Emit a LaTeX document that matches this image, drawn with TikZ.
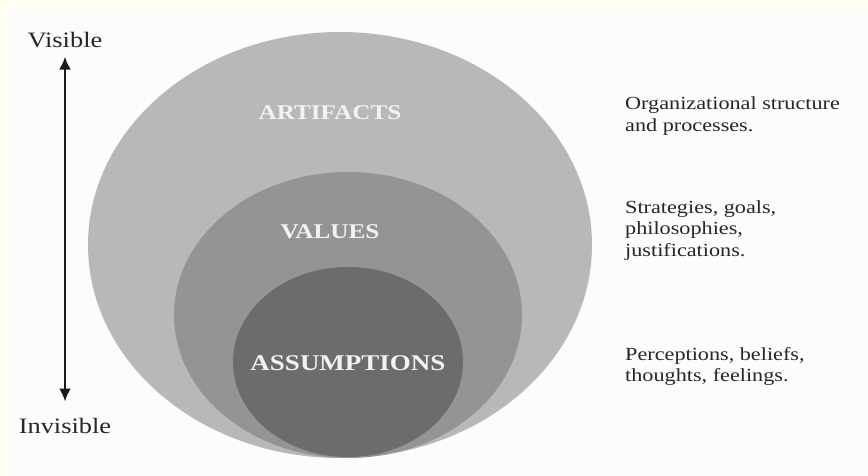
\documentclass[tikz,border=0pt]{standalone}
\usepackage{fontspec}
\setmainfont{Liberation Serif}[FakeStretch=1.2]
\usetikzlibrary{shapes.geometric,arrows.meta}
\definecolor{paper}{HTML}{FCFCFD}
\definecolor{cream}{HTML}{FFFEF0}
\definecolor{ringA}{HTML}{B8B8BB}
\definecolor{ringB}{HTML}{949497}
\definecolor{ringC}{HTML}{6C6C6F}
\definecolor{ink}{HTML}{262626}
\definecolor{lab}{HTML}{F2F2F2}
\begin{document}
\begin{tikzpicture}[x=1pt,y=-1pt,
  layer/.style={ellipse,draw=none,inner sep=0pt},
  ringlabel/.style={text=lab,inner sep=0pt,font=\bfseries\fontsize{21}{24}\selectfont},
  note/.style={text=ink,inner sep=0pt,anchor=north west,align=left,
    font=\fontsize{18.5}{21.5}\selectfont},
  axislabel/.style={text=ink,inner sep=0pt,anchor=base,font=\fontsize{22}{24}\selectfont},
  axis/.style={draw=black!90,line width=2.6pt,
    {Latex[length=13pt,width=12pt]}-{Latex[length=13pt,width=12pt]}}]
  % page: cream strip along top and left, white sheet
  \fill[cream] (0,0) rectangle (868,476);
  \fill[paper] (9,9) rectangle (868,476);
  \useasboundingbox (0,0) rectangle (868,476);

  % nested layers
  \node[layer,fill=ringA,minimum width=504pt,minimum height=426pt] (artifacts) at (340,245) {};
  \node[layer,fill=ringB,minimum width=348pt,minimum height=286pt] (values) at (348,315) {};
  \node[layer,fill=ringC,minimum width=230pt,minimum height=190pt] (assumptions) at (348,362) {};

  \node[ringlabel] (tA) at (330,113) {ARTIFACTS};
  \node[ringlabel] (tV) at (330,232) {VALUES};
  \node[ringlabel,font=\bfseries\fontsize{22.5}{24}\selectfont] (tS) at (348,363) {ASSUMPTIONS};

  % descriptions
  \node[note] (dA) at (625,96.5) {Organizational structure\\and processes.};
  \node[note] (dV) at (625,200) {Strategies, goals,\\philosophies,\\justifications.};
  \node[note] (dS) at (625,347) {Perceptions, beliefs,\\thoughts, feelings.};

  % visibility axis
  \node[axislabel] (vis) at (65,48) {Visible};
  \node[axislabel] (invis) at (65,433) {Invisible};
  \draw[axis,shorten <=8pt,shorten >=16pt] (vis.south) -- (invis.north);
\end{tikzpicture}
\end{document}
